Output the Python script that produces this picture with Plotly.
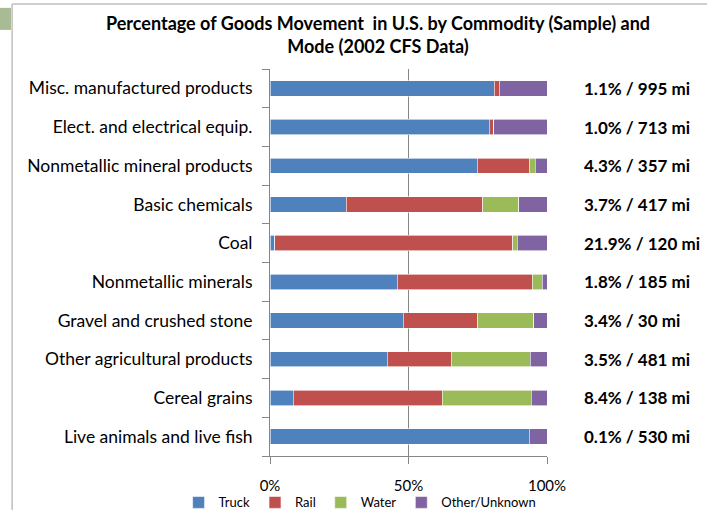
import plotly.graph_objects as go

# Commodity groups, bottom to top as drawn on the category axis
commodities = [
    "Live animals and live fish",
    "Cereal grains",
    "Other agricultural products",
    "Gravel and crushed stone",
    "Nonmetallic minerals",
    "Coal",
    "Basic chemicals",
    "Nonmetallic mineral products",
    "Elect. and electrical equip.",
    "Misc. manufactured products",
]

# Mode shares (%) per commodity
truck = [93.5, 8.4, 42.4, 48.1, 46.0, 1.7, 27.5, 74.8, 79.1, 80.9]
rail = [0.0, 53.7, 23.1, 26.9, 48.6, 86.0, 49.3, 18.7, 1.6, 1.8]
water = [0.0, 32.3, 28.5, 20.3, 3.6, 1.6, 13.0, 2.2, 0.0, 0.0]
other = [6.5, 5.6, 6.0, 4.7, 1.8, 10.7, 10.2, 4.3, 19.3, 17.3]

# Share of tonnage / average shipment distance
side_labels = [
    "0.1% / 530 mi",
    "8.4% / 138 mi",
    "3.5% / 481 mi",
    "3.4% / 30 mi",
    "1.8% / 185 mi",
    "21.9% / 120 mi",
    "3.7% / 417 mi",
    "4.3% / 357 mi",
    "1.0% / 713 mi",
    "1.1% / 995 mi",
]

series = [
    ("Truck", truck, "#4f81bd"),
    ("Rail", rail, "#c0504d"),
    ("Water", water, "#9bbb59"),
    ("Other/Unknown", other, "#8064a2"),
]

fig = go.Figure()
for name, vals, color in series:
    fig.add_trace(go.Bar(
        y=commodities, x=vals, name=name, orientation="h",
        marker=dict(color=color, line=dict(color="#ffffff", width=0.6)),
    ))

for cat, txt in zip(commodities, side_labels):
    fig.add_annotation(
        x=1.125, xref="paper", y=cat, yref="y", text="<b>" + txt + "</b>",
        showarrow=False, xanchor="left", yanchor="middle",
        font=dict(family="Lato", size=17, color="#000000"),
    )

# Chart title, two centred lines above the plot
fig.add_annotation(
    x=0.39, xref="paper", y=1.09, yref="paper",
    text="<b>Percentage of Goods Movement  in U.S. by Commodity (Sample) and<br>Mode (2002 CFS Data)</b>",
    showarrow=False, xanchor="center", yanchor="middle", align="center",
    font=dict(family="Lato", size=18, color="#000000"),
)

# Slide-style frame and accent tab
fig.add_shape(type="line", xref="paper", yref="paper",
              x0=-0.931, x1=1.6, y0=1.168, y1=1.168,
              line=dict(color="#bfbfbf", width=1.5))
fig.add_shape(type="line", xref="paper", yref="paper",
              x0=-0.931, x1=-0.931, y0=1.168, y1=-0.2,
              line=dict(color="#bfbfbf", width=1.5))
fig.add_shape(type="rect", xref="paper", yref="paper",
              x0=-0.975, x1=-0.935, y0=1.158, y1=1.101,
              line=dict(width=0), fillcolor="#a9bb95")

fig.update_layout(
    barmode="stack",
    bargap=0.6,
    width=707, height=510,
    margin=dict(l=270, r=160, t=69, b=54, autoexpand=False),
    paper_bgcolor="#ffffff", plot_bgcolor="#ffffff",
    font=dict(family="Lato", size=17.5, color="#000000"),
    legend=dict(
        orientation="h", traceorder="normal",
        x=-0.33, xanchor="left", xref="paper",
        y=-0.12, yanchor="middle", yref="paper",
        font=dict(size=13), itemwidth=30,
        bgcolor="rgba(0,0,0,0)",
    ),
    xaxis=dict(
        range=[0, 100], tickvals=[0, 50, 100], ticktext=["0%", "50%", "100%"],
        showgrid=True, gridcolor="#868686", gridwidth=1,
        showline=True, linecolor="#868686", linewidth=1,
        ticks="outside", ticklen=7, tickcolor="#868686",
        ticklabelstandoff=9, tickfont=dict(size=15),
        zeroline=False, fixedrange=True,
    ),
    yaxis=dict(
        categoryorder="array", categoryarray=commodities,
        showline=True, linecolor="#868686", linewidth=1,
        ticks="outside", ticklen=7, tickcolor="#868686", tickson="boundaries",
        ticklabelstandoff=13, showgrid=False,
    ),
)

fig.write_html("out.html")
